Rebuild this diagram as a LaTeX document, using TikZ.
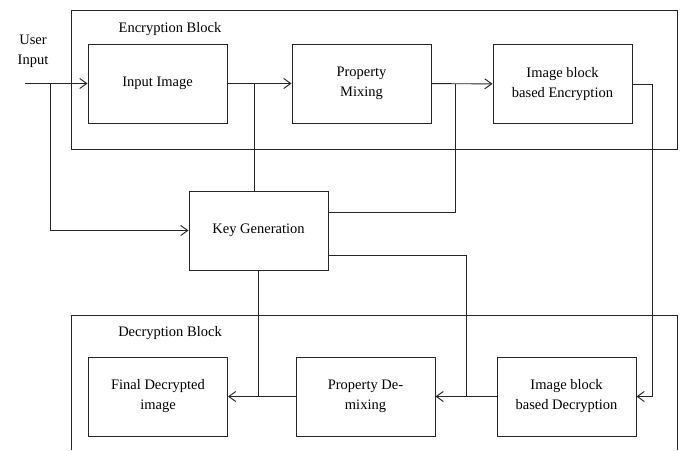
\documentclass[tikz,border=0pt]{standalone}
\usepackage{fontspec}
\setmainfont{Liberation Serif}
\usetikzlibrary{arrows.meta}

\begin{document}
\begin{tikzpicture}[x=1pt,y=-1pt,line width=0.95pt,black!85,
    blk/.style={draw,minimum width=139pt,minimum height=79pt,align=center,text=black,
      font=\fontsize{14.5}{20}\selectfont},
    lbl/.style={text=black,font=\fontsize{14.5}{20}\selectfont},
    arr/.style={-{Straight Barb[length=7pt,width=10pt]}}]
  \useasboundingbox (0,0) rectangle (682,450);
  \draw (71,10) rectangle (677,149);
  \draw (71,450) -- (71,315) -- (677,315) -- (677,450);
  \node[lbl] (enclbl) at (170,29) {Encryption Block};
  \node[lbl] (declbl) at (170,333) {Decryption Block};
  \node[lbl,align=center] (usr) at (33,51) {User\\Input};
  \node[blk] (inimg) at (157.5,83.5) {Input Image};
  \node[blk] (mix) at (361.5,83.5) {Property\\Mixing};
  \node[blk] (encimg) at (562.5,84) {Image block\\based Encryption};
  \node[blk] (keygen) at (258.5,230.5) {Key Generation};
  \node[blk] (final) at (158,396.5) {Final Decrypted\\image};
  \node[blk] (demix) at (365.5,396.5) {Property De-\\mixing};
  \node[blk] (decimg) at (566.5,396.5) {Image block\\based Decryption};
  \coordinate (in0) at (25,83.5); \coordinate (s1) at (50,83.5);
  \coordinate (s2) at (254,83.5); \coordinate (s3) at (455,83.5);
  \coordinate (s4) at (466,396.5); \coordinate (s5) at (258.5,396.5);
  \draw[arr] (in0) -- (inimg);
  \draw[arr] (s1) |- (keygen);
  \draw[arr] (inimg) -- (mix);
  \draw (s2) -- (s2 |- keygen.north);
  \draw[arr] (mix) -- (encimg);
  \draw (s3) |- ([yshift=18.5pt]keygen.east);
  \draw[arr] (encimg.east) -- ++(20,0) |- (decimg.east);
  \draw ([yshift=-25pt]keygen.east) -| (s4);
  \draw (keygen.south) -- (s5);
  \draw[arr] (decimg) -- (demix);
  \draw[arr] (demix) -- (final);
\end{tikzpicture}
\end{document}
